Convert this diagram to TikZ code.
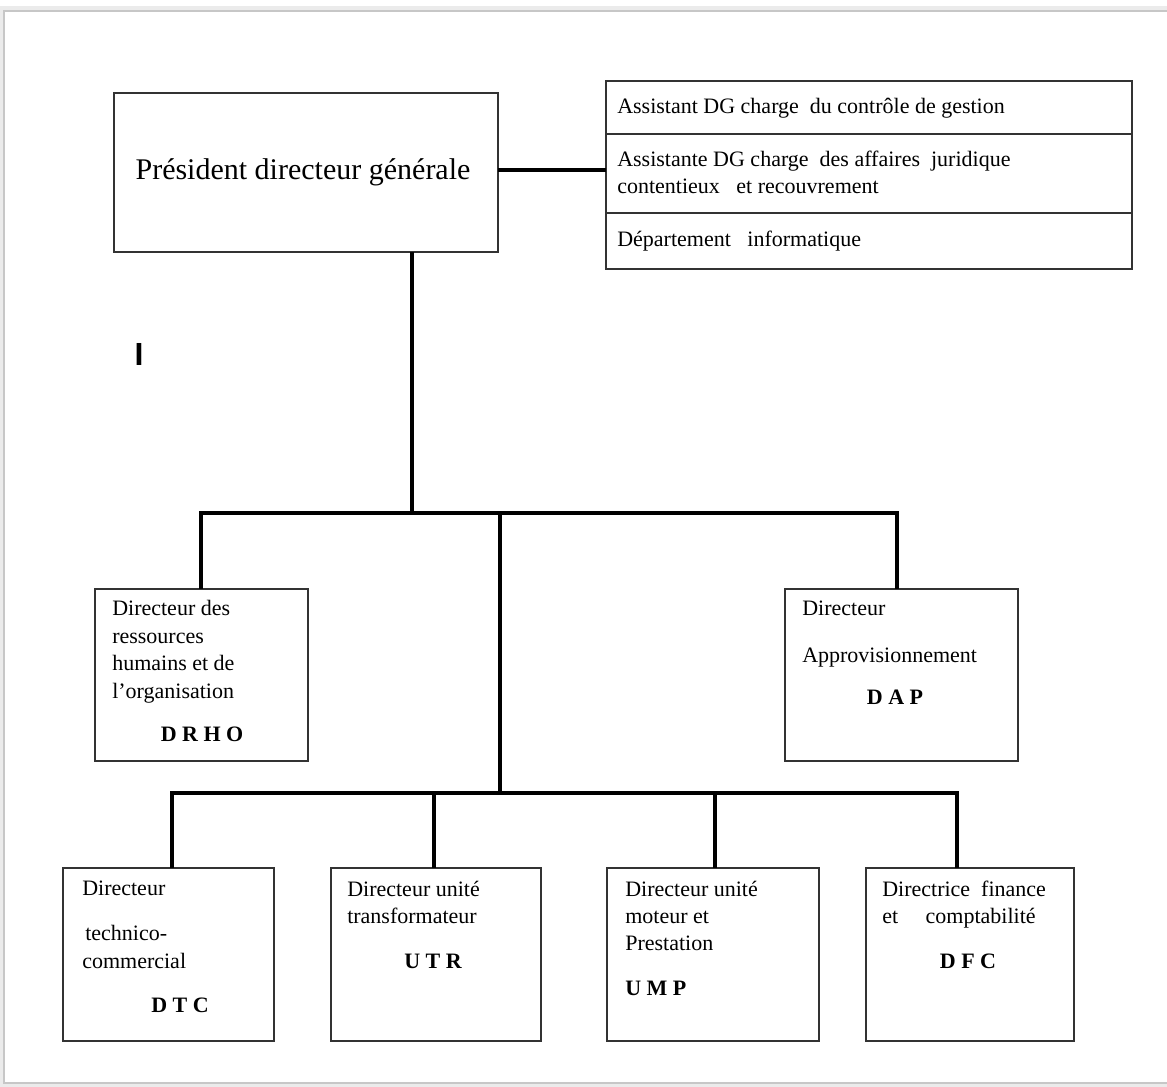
\documentclass[tikz,border=0pt]{standalone}
\usepackage{fontspec}
\setmainfont{Liberation Serif}
\newfontfamily\lsans{Liberation Sans}
\usetikzlibrary{fit}
\begin{document}
\begin{tikzpicture}[x=0.75pt,y=-0.75pt,
  box/.style={draw=black!80, line width=1.8pt, inner sep=0pt, outer sep=0pt, fill=white},
  conn/.style={draw=black, line width=3pt, line cap=rect, line join=miter},
  txt/.style={inner sep=0pt, anchor=base west, text=black, font=\fontsize{16.5}{20}\selectfont},
  btxt/.style={inner sep=0pt, anchor=base, text=black, font=\fontsize{16.5}{20}\selectfont\bfseries},
  frame/.style={draw=black!22, line width=1.6pt}]
\useasboundingbox (0,0) rectangle (1167,1086);
% page frame
\draw[draw=black!8, line width=4pt] (1167,9) -- (2,9) -- (2,1085) -- (1167,1085);
\draw[frame] (1167,11) -- (4,11) -- (4,1083) -- (1167,1083);

% boxes
\node[box, fit={(114,93) (498,252)}] (pdg) {};
\node[box, fit={(606,81) (1132,134)}] (a1) {};
\node[box, fit={(606,134) (1132,213)}] (a2) {};
\node[box, fit={(606,213) (1132,269)}] (a3) {};
\node[box, fit={(95,589) (308,761)}] (drho) {};
\node[box, fit={(785,589) (1018,761)}] (dap) {};
\node[box, fit={(63,868) (274,1041)}] (dtc) {};
\node[box, fit={(331,868) (541,1041)}] (utr) {};
\node[box, fit={(607,868) (819,1041)}] (ump) {};
\node[box, fit={(866,868) (1074,1041)}] (dfc) {};

% bus coordinates
\coordinate (bP) at (412,513);
\coordinate (b1L) at (201,513);
\coordinate (b1M) at (500,513);
\coordinate (b1R) at (897,513);
\coordinate (b2L) at (172,793);
\coordinate (b2M) at (500,793);
\coordinate (b2a) at (434,793);
\coordinate (b2b) at (715,793);
\coordinate (b2R) at (957,793);

% connectors
\draw[conn, line cap=butt] (pdg.east |- 0,170) -- (a2.west |- 0,170);
\draw[conn, line cap=butt] (bP |- pdg.south) -- (bP);
\draw[conn] (b1L) -- (b1R);
\draw[conn, line cap=butt] (b1L) -- (b1L |- drho.north);
\draw[conn, line cap=butt] (b1R) -- (b1R |- dap.north);
\draw[conn, line cap=butt] (b1M) -- (b2M);
\draw[conn] (b2L) -- (b2R);
\draw[conn, line cap=butt] (b2L) -- (b2L |- dtc.north);
\draw[conn, line cap=butt] (b2a) -- (b2a |- utr.north);
\draw[conn, line cap=butt] (b2b) -- (b2b |- ump.north);
\draw[conn, line cap=butt] (b2R) -- (b2R |- dfc.north);

% texts
\node[inner sep=0pt, anchor=base, text=black, font=\fontsize{22.5}{26}\selectfont] (tpdg) at (303,179) {Président directeur générale};

\node[txt] (ta1) at (617,113) {Assistant DG charge\ \ du contrôle de gestion};
\node[txt] (ta2a) at (617,166) {Assistante DG charge\ \ des affaires\ \ juridique};
\node[txt] (ta2b) at (617,193) {contentieux\ \ \ et recouvrement};
\node[txt] (ta3) at (617,246) {Département\ \ \ informatique};

\node[txt] (td1) at (112,615) {Directeur des};
\node[txt] (td2) at (112,643) {ressources};
\node[txt] (td3) at (112,670) {humains et de};
\node[txt] (td4) at (112,698) {l’organisation};
\node[btxt] (td5) at (202,741) {D R H O};

\node[txt] (tp1) at (802,615) {Directeur};
\node[txt] (tp2) at (802,662) {Approvisionnement};
\node[btxt] (tp3) at (895,704) {D A P};

\node[txt] (tc1) at (82,895) {Directeur};
\node[txt] (tc2) at (85,940) {technico-};
\node[txt] (tc3) at (82,968) {commercial};
\node[btxt] (tc4) at (180,1012) {D T C};

\node[txt] (tu1) at (347,896) {Directeur unité};
\node[txt] (tu2) at (347,923) {transformateur};
\node[btxt] (tu3) at (433,968) {U T R};

\node[txt] (tm1) at (625,896) {Directeur unité};
\node[txt] (tm2) at (625,923) {moteur et};
\node[txt] (tm3) at (625,950) {Prestation};
\node[btxt, anchor=base west] (tm4) at (625,995) {U M P};

\node[txt] (tf1) at (882,896) {Directrice\ \ finance};
\node[txt] (tf2) at (882,923) {et\ \ \ \ \ comptabilité};
\node[btxt] (tf3) at (968,968) {D F C};

\node[inner sep=0pt, anchor=base, text=black, font=\lsans\bfseries\fontsize{24}{28}\selectfont] (mark) at (139,365) {I};
\end{tikzpicture}
\end{document}
